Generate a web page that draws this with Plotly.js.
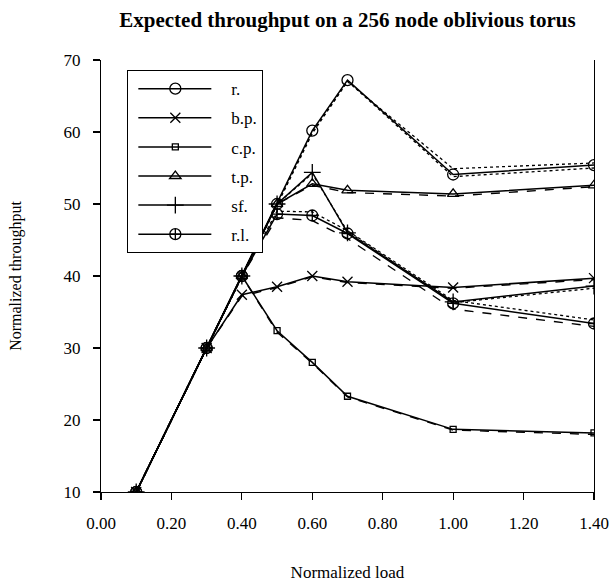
<!DOCTYPE html>
<html>
<head>
<meta charset="utf-8">
<script src="https://cdn.plot.ly/plotly-3.0.1.min.js"></script>
<style>body{margin:0;background:#fff;} #chart{width:611px;height:582px;}</style>
</head>
<body>
<div id="chart"></div>
<script>
// Normalized load (x)
const load = [0.1, 0.3, 0.4, 0.5, 0.6, 0.7, 1.0, 1.4];

// Solid series (with markers)
const seriesNames = ["r.", "b.p.", "c.p.", "t.p.", "sf.", "r.l."];
const r_vals  = [10, 30, 40, 50, 60.2, 67.2, 54.1, 55.4];
const bp_vals = [10, 30, 37.4, 38.5, 40.0, 39.2, 38.4, 39.7];
const cp_vals = [10, 30, 40, 32.4, 28.0, 23.3, 18.7, 18.2];
const tp_vals = [10, 30, 40, 50, 52.8, 51.9, 51.4, 52.6];
const sf_vals = [10, 30, 40, 50, 54.4, 46.0, 36.4, 38.6];
const rl_vals = [10, 30, 40, 48.6, 48.4, 45.9, 36.2, 33.4];

// Companion (model) series, dotted
const r_dot1  = [10, 30, 40, 50, 59.8, 67.0, 54.9, 55.7];
const r_dot2  = [10, 30, 40, 50, 60.0, 67.1, 53.8, 55.0];
const sf_dot  = [10, 30, 40, 50, 54.2, 46.2, 36.3, 38.3];
const rl_dot  = [10, 30, 40, 49.0, 48.9, 46.3, 36.6, 33.9];
// Companion (model) series, dashed
const cp_dash = [10, 30, 40, 32.2, 27.9, 23.2, 18.6, 18.0];
const tp_dash = [10, 30, 40, 50, 52.6, 51.6, 51.1, 52.4];
const rl_dash = [10, 30, 40, 48.1, 47.7, 45.2, 35.4, 33.0];
const bp_dash = [10, 30, 37.2, 38.4, 39.9, 39.1, 38.3, 39.5];

// Tick labels
const xTicks = [0, 0.2, 0.4, 0.6, 0.8, 1.0, 1.2, 1.4];
const xTickText = ["0.00", "0.20", "0.40", "0.60", "0.80", "1.00", "1.20", "1.40"];
const yTicks = [10, 20, 30, 40, 50, 60, 70];

const solidVals = [r_vals, bp_vals, cp_vals, tp_vals, sf_vals, rl_vals];
const symbols = ["circle-open", "x-thin-open", "square-open", "triangle-up-open", "cross-thin-open", "circle-cross-open"];
const sizes = [11, 10, 6, 10, 12, 11];

const traces = [];
const comp = (y, dash) => ({
  x: load, y: y, mode: "lines", showlegend: false, hoverinfo: "skip",
  line: {color: "#000", width: dash === "dot" ? 1.3 : 1.4, dash: dash}
});
traces.push(comp(r_dot1, "dot"), comp(r_dot2, "dot"), comp(sf_dot, "dot"), comp(rl_dot, "dot"));
traces.push(comp(cp_dash, "dash"), comp(tp_dash, "dash"), comp(rl_dash, "dash"), comp(bp_dash, "dash"));

seriesNames.forEach((n, i) => {
  traces.push({
    x: load, y: solidVals[i], name: n, mode: "lines+markers", legendgroup: "g" + i,
    line: {color: "#000", width: 1.5},
    marker: {symbol: symbols[i], size: sizes[i], color: "#000", line: {color: "#000", width: 1.3}}
  });
});

const font = "'Liberation Serif', 'Times New Roman', serif";
const layout = {
  width: 611, height: 582,
  margin: {l: 101, r: 17, t: 60, b: 90},
  paper_bgcolor: "#fff", plot_bgcolor: "#fff",
  font: {family: font, color: "#000", size: 17},
  title: {text: "<b>Expected throughput on a 256 node oblivious torus</b>", x: 0.5, xref: "paper", xanchor: "center", y: 0.967, yref: "container", yanchor: "middle", font: {family: font, size: 21, color: "#000"}},
  xaxis: {
    range: [0, 1.4], tickvals: xTicks, ticktext: xTickText,
    showgrid: false, zeroline: false, showline: true, linecolor: "#000", linewidth: 1.2,
    ticks: "outside", ticklen: 7, tickcolor: "#000", tickwidth: 1.2,
    tickfont: {family: font, size: 17}, ticklabelstandoff: 8,
    title: {text: "Normalized load", font: {family: font, size: 17}, standoff: 36}
  },
  yaxis: {
    range: [10, 70], tickvals: yTicks,
    showgrid: false, zeroline: false, showline: true, mirror: true, linecolor: "#000", linewidth: 1.2,
    ticks: "outside", ticklen: 7, tickcolor: "#000", tickwidth: 1.2,
    tickfont: {family: font, size: 17}, ticklabelstandoff: 9,
    title: {text: "Normalized throughput", font: {family: font, size: 16}, standoff: 37}
  },
  showlegend: true,
  legend: {
    x: 0.053, y: 0.977, xanchor: "left", yanchor: "top",
    bgcolor: "#fff", bordercolor: "#000", borderwidth: 1.2,
    font: {family: font, size: 17}, itemwidth: 93, tracegroupgap: 4
  }
};

Plotly.newPlot("chart", traces, layout, {displayModeBar: false, staticPlot: true}).then(gd => {
  // Lengthen legend sample lines to match the reference's style
  gd.querySelectorAll(".legend .legendlines path").forEach(p => p.setAttribute("d", "M10,0h73"));
  gd.querySelectorAll(".legend .legendpoints path").forEach(p => p.setAttribute("transform", "translate(47,0)"));
});
</script>
</body>
</html>
